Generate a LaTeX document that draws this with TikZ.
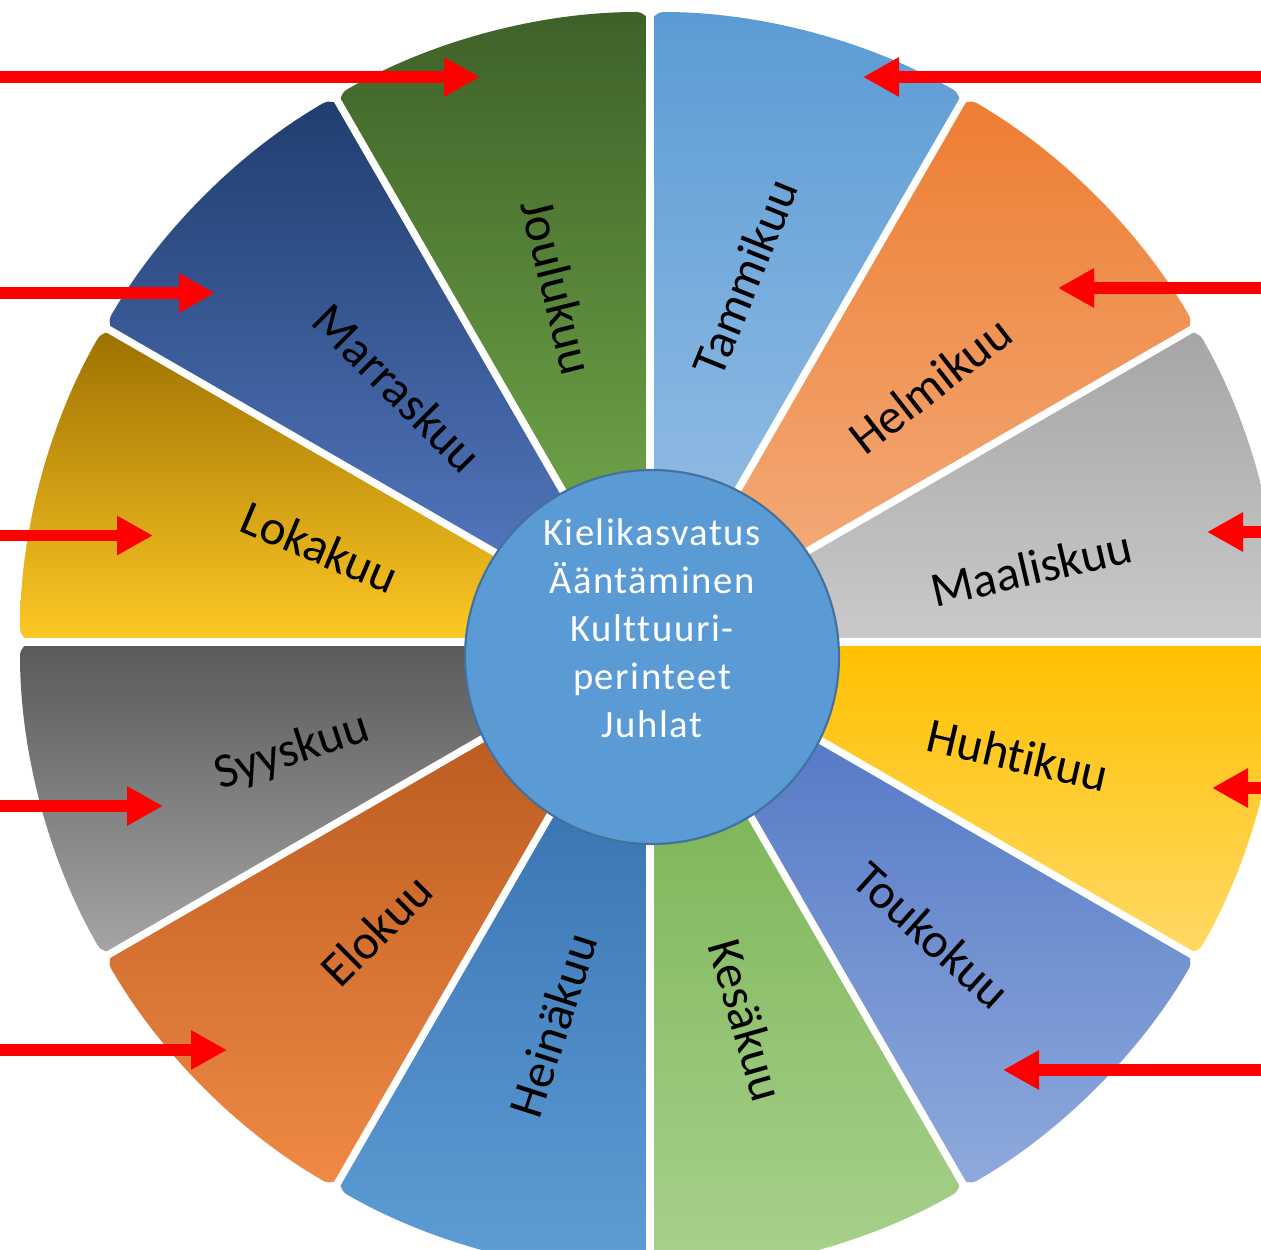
\documentclass[tikz,border=0pt]{standalone}
\usepackage{fontspec}
\setmainfont{Carlito}[Ligatures={CommonOff,ContextualOff}]
\usetikzlibrary{arrows.meta, positioning}
% month colours, top and bottom of each gradient
\definecolor{janTop}{HTML}{5B9BD5}\definecolor{janBot}{HTML}{9DC3E6}
\definecolor{febTop}{HTML}{ED7D31}\definecolor{febBot}{HTML}{F4B183}
\definecolor{marTop}{HTML}{A5A5A5}\definecolor{marBot}{HTML}{CACACA}
\definecolor{aprTop}{HTML}{FFC000}\definecolor{aprBot}{HTML}{FFD966}
\definecolor{mayTop}{HTML}{4A70C2}\definecolor{mayBot}{HTML}{8FAADC}
\definecolor{junTop}{HTML}{70AD47}\definecolor{junBot}{HTML}{A9D18E}
\definecolor{julTop}{HTML}{2F68A8}\definecolor{julBot}{HTML}{5E9DD6}
\definecolor{augTop}{HTML}{B2531A}\definecolor{augBot}{HTML}{F08A45}
\definecolor{sepTop}{HTML}{595959}\definecolor{sepBot}{HTML}{A6A6A6}
\definecolor{octTop}{HTML}{9C7000}\definecolor{octBot}{HTML}{FFC926}
\definecolor{novTop}{HTML}{203D6E}\definecolor{novBot}{HTML}{5A7FCA}
\definecolor{decTop}{HTML}{3E6128}\definecolor{decBot}{HTML}{7AB34F}
\definecolor{hubBlue}{HTML}{5B9BD5}
\definecolor{hubEdge}{HTML}{41719C}
\tikzset{
    slice/.style={rounded corners=4pt},
    gap/.style={draw=white, line width=2.1pt},
    hub/.style={circle, fill=hubBlue, draw=hubEdge, line width=0.6pt, minimum size=3.74cm, inner sep=0pt},
    hubtext/.style={text=white, align=center, inner sep=0pt, font=\fontsize{11}{13.66}\selectfont\addfontfeatures{LetterSpace=4}},
    month/.style={text=black, inner sep=0pt, font=\fontsize{14}{16}\selectfont},
    pointer/.style={draw=red, line width=3.4pt, -{Triangle[length=3.6mm, width=3.7mm]}}
}
\def\wheelR{6.3}
\def\wedge#1#2{(0,0) -- (#1:\wheelR) arc[start angle=#1, end angle=#2, radius=\wheelR] -- cycle}

\begin{document}
\begin{tikzpicture}
    % frame of the page
    \clip (0,0) rectangle (12.61,-12.50);

    % the twelve months, clockwise from the top
    \begin{scope}[shift={(6.50,-6.42)}]
        \shade[slice, top color=janTop, bottom color=janBot] \wedge{60}{90};
        \shade[slice, top color=febTop, bottom color=febBot] \wedge{30}{60};
        \shade[slice, top color=marTop, bottom color=marBot] \wedge{0}{30};
        \shade[slice, top color=aprTop, bottom color=aprBot] \wedge{-30}{0};
        \shade[slice, top color=mayTop, bottom color=mayBot] \wedge{-60}{-30};
        \shade[slice, top color=junTop, bottom color=junBot] \wedge{-90}{-60};
        \shade[slice, top color=julTop, bottom color=julBot] \wedge{-120}{-90};
        \shade[slice, top color=augTop, bottom color=augBot] \wedge{-150}{-120};
        \shade[slice, top color=sepTop, bottom color=sepBot] \wedge{-180}{-150};
        \shade[slice, top color=octTop, bottom color=octBot] \wedge{150}{180};
        \shade[slice, top color=novTop, bottom color=novBot] \wedge{120}{150};
        \shade[slice, top color=decTop, bottom color=decBot] \wedge{90}{120};

        % white gaps between the months
        \draw[gap] (0:6.6) -- (180:6.6);
        \draw[gap] (30:6.6) -- (210:6.6);
        \draw[gap] (60:6.6) -- (240:6.6);
        \draw[gap] (90:6.6) -- (270:6.6);
        \draw[gap] (120:6.6) -- (300:6.6);
        \draw[gap] (150:6.6) -- (330:6.6);
    \end{scope}

    % hub in the middle
    \node[hub] (hub) at (6.52,-6.57) {};
    \node[hubtext] (hubtext) at ([yshift=0.29cm]hub.center) {Kielikasvatus\\Ääntäminen\\Kulttuuri-\\perinteet\\Juhlat};

    % month names
    \node[month, rotate=68] (tammikuu) at (7.45,-2.77) {Tammikuu};
    \node[month, rotate=38] (helmikuu) at (9.30,-3.85) {Helmikuu};
    \node[month, rotate=13] (maaliskuu) at (10.31,-5.68) {Maaliskuu};
    \node[month, rotate=-13] (huhtikuu) at (10.18,-7.55) {Huhtikuu};
    \node[month, rotate=-42] (toukokuu) at (9.32,-9.35) {Toukokuu};
    \node[month, rotate=-74] (kesakuu) at (7.47,-10.20) {Kesäkuu};
    \node[month, rotate=72] (heinakuu) at (5.53,-10.25) {Heinäkuu};
    \node[month, rotate=45] (elokuu) at (3.76,-9.30) {Elokuu};
    \node[month, rotate=18] (syyskuu) at (2.92,-7.52) {Syyskuu};
    \node[month, rotate=-23] (lokakuu) at (3.20,-5.47) {Lokakuu};
    \node[month, rotate=-45] (marraskuu) at (3.98,-3.88) {Marraskuu};
    \node[month, rotate=-76] (joulukuu) at (5.58,-2.87) {Joulukuu};

    % ends of the red arrows
    \coordinate (decFrom) at (-0.5,-0.77);   \coordinate (decTo) at (4.80,-0.77);
    \coordinate (novFrom) at (-0.5,-2.93);   \coordinate (novTo) at (2.15,-2.93);
    \coordinate (octFrom) at (-0.5,-5.355);  \coordinate (octTo) at (1.53,-5.355);
    \coordinate (sepFrom) at (-0.5,-8.06);   \coordinate (sepTo) at (1.63,-8.06);
    \coordinate (augFrom) at (-0.5,-10.50);  \coordinate (augTo) at (2.27,-10.50);
    \coordinate (janFrom) at (13.1,-0.77);   \coordinate (janTo) at (8.63,-0.77);
    \coordinate (febFrom) at (13.1,-2.88);   \coordinate (febTo) at (10.58,-2.88);
    \coordinate (marFrom) at (13.1,-5.32);   \coordinate (marTo) at (12.07,-5.32);
    \coordinate (aprFrom) at (13.1,-7.88);   \coordinate (aprTo) at (12.12,-7.88);
    \coordinate (mayFrom) at (13.1,-10.70);  \coordinate (mayTo) at (10.03,-10.70);

    % red arrows
    \draw[pointer] (decFrom) -- (decTo);
    \draw[pointer] (novFrom) -- (novTo);
    \draw[pointer] (octFrom) -- (octTo);
    \draw[pointer] (sepFrom) -- (sepTo);
    \draw[pointer] (augFrom) -- (augTo);
    \draw[pointer] (janFrom) -- (janTo);
    \draw[pointer] (febFrom) -- (febTo);
    \draw[pointer] (marFrom) -- (marTo);
    \draw[pointer] (aprFrom) -- (aprTo);
    \draw[pointer] (mayFrom) -- (mayTo);
\end{tikzpicture}
\end{document}
